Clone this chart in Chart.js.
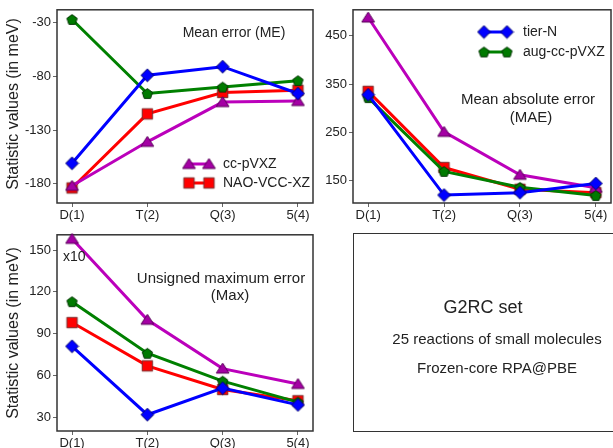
<!DOCTYPE html>
<html>
<head>
<meta charset="utf-8">
<script src="https://cdn.jsdelivr.net/npm/chart.js@4.4.1/dist/chart.umd.min.js"></script>
<style>
  html, body { margin: 0; padding: 0; background: #fff; }
  body { width: 613px; height: 448px; overflow: hidden; position: relative;
         font-family: "Liberation Sans", Arial, sans-serif; color: #222; }
  canvas { position: absolute; }
  #info { position: absolute; left: 353px; top: 233px; width: 300px; height: 199px;
          border: 1.5px solid #333; box-sizing: border-box; }
  .t { position: absolute; white-space: nowrap; transform: translate(-50%, -50%); }
</style>
</head>
<body>
<canvas id="me" width="322" height="225" style="left:0;top:0"></canvas>
<canvas id="mae" width="300" height="225" style="left:320px;top:0"></canvas>
<canvas id="max" width="322" height="223" style="left:0;top:225px"></canvas>
<div id="info"></div>
<div class="t" style="left:483px;top:307px;font-size:18px">G2RC set</div>
<div class="t" style="left:497px;top:338px;font-size:15px">25 reactions of small molecules</div>
<div class="t" style="left:497px;top:367px;font-size:15px">Frozen-core RPA@PBE</div>

<script>
// Basis-set labels along the x axis
const categories = ['D(1)', 'T(2)', 'Q(3)', '5(4)'];

// Mean error (meV)
const meTierN = [-161, -79, -71, -96];
const meAug   = [-27, -96, -90, -84];
const meCc    = [-182, -141, -104, -103];
const meNao   = [-184, -115, -95, -93];
const meTicks = [-180, -130, -80, -30];

// Mean absolute error (meV)
const maeTierN = [328, 120, 125, 144];
const maeAug   = [322, 169, 136, 119];
const maeCc    = [488, 251, 162, 135];
const maeNao   = [335, 177, 132, 125];
const maeTicks = [150, 250, 350, 450];

// Unsigned maximum error (meV, x10)
const maxTierN = [81, 32, 51, 39];
const maxAug   = [113, 76, 56, 41];
const maxCc    = [158, 100, 65, 54];
const maxNao   = [98, 67, 50, 42];
const maxTicks = [30, 60, 90, 120, 150];

const FONT = '"Liberation Sans", Arial, sans-serif';
const INK = '#222';

// ---- marker images -------------------------------------------------------
function marker(shape, fill, stroke) {
  const s = 15, c = document.createElement('canvas');
  c.width = s; c.height = s;
  const g = c.getContext('2d');
  const m = s / 2;
  g.beginPath();
  if (shape === 'diamond') {
    const r = 6.4;
    g.moveTo(m, m - r); g.lineTo(m + r, m); g.lineTo(m, m + r); g.lineTo(m - r, m);
  } else if (shape === 'square') {
    const h = 5.2;
    g.rect(m - h, m - h, 2 * h, 2 * h);
  } else if (shape === 'triangle') {
    const w = 6.4, top = m - 5.5, bot = m + 4.5;
    g.moveTo(m, top); g.lineTo(m + w, bot); g.lineTo(m - w, bot);
  } else if (shape === 'pentagon') {
    const r = 5.4;
    for (let i = 0; i < 5; i++) {
      const a = -Math.PI / 2 + i * 2 * Math.PI / 5;
      const px = m + r * Math.cos(a), py = m + 0.5 + r * Math.sin(a);
      i ? g.lineTo(px, py) : g.moveTo(px, py);
    }
  }
  g.closePath();
  g.fillStyle = fill; g.fill();
  g.lineWidth = 1; g.strokeStyle = stroke; g.stroke();
  return c;
}

const styles = {
  tierN: { label: 'tier-N',      line: '#0000ff', img: marker('diamond',  '#0000ff', '#00006a') },
  aug:   { label: 'aug-cc-pVXZ', line: '#008000', img: marker('pentagon', '#007a00', '#003300') },
  cc:    { label: 'cc-pVXZ',     line: '#bb00bb', img: marker('triangle', '#a400a4', '#5a005a') },
  nao:   { label: 'NAO-VCC-XZ',  line: '#ff0000', img: marker('square',   '#ff0000', '#7a2a2a') }
};

function series(key, values) {
  const st = styles[key];
  return {
    label: st.label,
    data: values.map((v, i) => ({ x: i, y: v })),
    borderColor: st.line,
    borderWidth: 3,
    pointStyle: st.img,
    pointRadius: 6,
    tension: 0,
    clip: false
  };
}

// ---- panel factory --------------------------------------------------------
function panel(id, cfg) {
  const cv = document.getElementById(id);
  const W = cv.width, H = cv.height, A = cfg.area;

  const deco = {
    id: 'deco_' + id,
    beforeDatasetsDraw(chart) {
      const ctx = chart.ctx, ca = chart.chartArea;
      ctx.save();
      ctx.strokeStyle = '#333';
      ctx.lineWidth = 1.5;
      ctx.strokeRect(ca.left, ca.top, ca.right - ca.left, ca.bottom - ca.top);
      ctx.restore();
    },
    afterDraw(chart) {
      const ctx = chart.ctx;
      ctx.save();
      ctx.fillStyle = INK;
      ctx.textBaseline = 'middle';
      (cfg.texts || []).forEach(t => {
        ctx.font = t.size + 'px ' + FONT;
        ctx.textAlign = t.align || 'center';
        if (t.rotate) {
          ctx.save();
          ctx.translate(t.x, t.y);
          ctx.rotate(-Math.PI / 2);
          ctx.fillText(t.text, 0, 0);
          ctx.restore();
        } else {
          ctx.fillText(t.text, t.x, t.y);
        }
      });
      (cfg.legend || []).forEach(e => {
        const st = styles[e.key];
        ctx.strokeStyle = st.line;
        ctx.lineWidth = 3;
        ctx.beginPath();
        ctx.moveTo(e.x1, e.y); ctx.lineTo(e.x2, e.y);
        ctx.stroke();
        [e.x1, e.x2].forEach(px => ctx.drawImage(st.img, px - st.img.width / 2, e.y - st.img.height / 2));
        ctx.font = '14px ' + FONT;
        ctx.textAlign = 'left';
        ctx.fillStyle = INK;
        ctx.fillText(st.label, e.tx, e.y);
      });
      ctx.restore();
    }
  };

  const tickFont = { family: FONT, size: 13 };
  return new Chart(cv, {
    type: 'line',
    data: { datasets: cfg.datasets },
    options: {
      responsive: false,
      animation: false,
      devicePixelRatio: 1,
      layout: { padding: { left: 0, top: A.top, right: W - A.right, bottom: 0 } },
      plugins: { legend: { display: false }, tooltip: { enabled: false } },
      scales: {
        x: {
          type: 'linear', min: -0.2, max: 3.2,
          afterBuildTicks: s => { s.ticks = categories.map((_, i) => ({ value: i })); },
          afterFit: s => { s.height = H - A.bottom; },
          ticks: { callback: v => categories[v], font: tickFont, color: INK, padding: 1, maxRotation: 0, autoSkip: false },
          grid: { drawOnChartArea: false, drawTicks: true, tickLength: 4, color: '#666' },
          border: { display: false }
        },
        y: {
          type: 'linear', min: cfg.yMin, max: cfg.yMax,
          afterBuildTicks: s => { s.ticks = cfg.yTicks.map(v => ({ value: v })); },
          afterFit: s => { s.width = A.left; },
          ticks: { font: tickFont, color: INK, padding: 2 },
          grid: { drawOnChartArea: false, drawTicks: true, tickLength: 4, color: '#666' },
          border: { display: false }
        }
      }
    },
    plugins: [deco]
  });
}

// Mean error
panel('me', {
  area: { left: 57, top: 4, right: 319, bottom: 203 },
  yMin: -198, yMax: -18, yTicks: meTicks,
  datasets: [series('tierN', meTierN), series('aug', meAug), series('cc', meCc), series('nao', meNao)],
  texts: [
    { text: 'Mean error (ME)', x: 234, y: 33, size: 14 },
    { text: 'Statistic values (in meV)', x: 14, y: 104, size: 16, rotate: true }
  ],
  legend: [
    { key: 'cc',  x1: 189, x2: 209, y: 164, tx: 223 },
    { key: 'nao', x1: 189, x2: 209, y: 183, tx: 223 }
  ]
});

// Mean absolute error
panel('mae', {
  area: { left: 33, top: 5, right: 295, bottom: 203 },
  yMin: 103.5, yMax: 504, yTicks: maeTicks,
  datasets: [series('tierN', maeTierN), series('aug', maeAug), series('cc', maeCc), series('nao', maeNao)],
  texts: [
    { text: 'Mean absolute error', x: 208, y: 100, size: 15 },
    { text: '(MAE)', x: 211, y: 118, size: 15 }
  ],
  legend: [
    { key: 'tierN', x1: 164, x2: 187, y: 32, tx: 203 },
    { key: 'aug',   x1: 164, x2: 187, y: 52, tx: 203 }
  ]
});

// Unsigned maximum error
panel('max', {
  area: { left: 57, top: 8, right: 319, bottom: 206 },
  yMin: 20.3, yMax: 160.9, yTicks: maxTicks,
  datasets: [series('tierN', maxTierN), series('aug', maxAug), series('cc', maxCc), series('nao', maxNao)],
  texts: [
    { text: 'x10', x: 63, y: 32, size: 14, align: 'left' },
    { text: 'Unsigned maximum error', x: 221, y: 54, size: 15 },
    { text: '(Max)', x: 230, y: 71, size: 15 },
    { text: 'Statistic values (in meV)', x: 14, y: 108, size: 16, rotate: true }
  ]
});
</script>
</body>
</html>
